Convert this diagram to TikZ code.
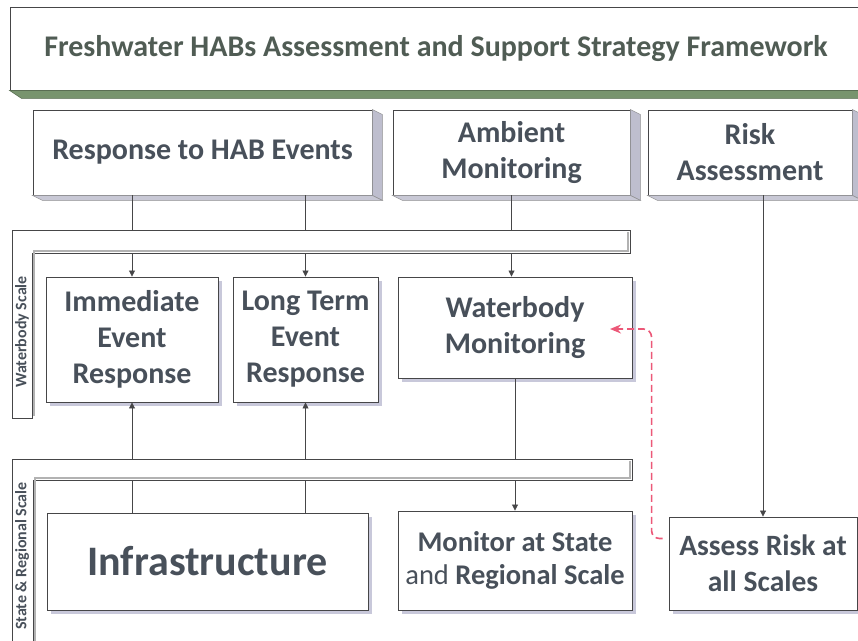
\documentclass[tikz,border=0pt]{standalone}
\usepackage{fontspec}
\setmainfont{Carlito}
\usepackage{tikz}
\usetikzlibrary{positioning, calc, arrows.meta, shadows}

\definecolor{txtgray}{RGB}{72,80,90}
\definecolor{titlegray}{RGB}{80,92,84}
\definecolor{edgegray}{RGB}{70,70,72}
\definecolor{sidegray}{RGB}{190,190,206}
\definecolor{sidegreen}{RGB}{120,148,110}
\definecolor{shadowblue}{RGB}{200,200,218}
\definecolor{riskred}{RGB}{236,88,120}

\tikzset{
  box/.style={draw=edgegray, line width=0.9pt, fill=white, text=txtgray, align=center,
    font=\bfseries\fontsize{30}{36}\selectfont, inner sep=0pt},
  card/.style={box, drop shadow={shadow xshift=4pt, shadow yshift=-4pt, fill=shadowblue, opacity=1}},
  flow/.style={draw=edgegray, line width=0.8pt, -{Triangle[length=6pt,width=6pt]}},
  bar/.style={draw=edgegray, line width=0.9pt, fill=white},
  scalelabel/.style={rotate=90, text=txtgray, font=\bfseries\fontsize{16}{18}\selectfont},
  riskflow/.style={draw=riskred, line width=1.6pt, dash pattern=on 7pt off 4pt,
    rounded corners=8pt, -{Stealth[length=11pt,width=9pt]}}
}

\begin{document}
\begin{tikzpicture}[x=1pt, y=-1pt]
    \useasboundingbox (0,0) rectangle (858,640);
    \fill[white] (0,0) rectangle (858,640);

    % headline and the three strategy areas
    \node[box, minimum width=852pt, minimum height=83pt, text=titlegray] (title) at (436,48.5)
        {Freshwater HABs Assessment and Support Strategy Framework};
    \node[box, minimum width=339pt, minimum height=85pt] (resp) at (202.5,152.5) {Response to HAB Events};
    \node[box, minimum width=237pt, minimum height=85pt] (ambient) at (511.5,152.5) {Ambient\\Monitoring};
    \node[box, minimum width=204pt, minimum height=85pt] (risk) at (750,152.5) {Risk\\Assessment};

    % waterbody scale
    \node[card, minimum width=172pt, minimum height=125pt] (imm) at (132,339.5) {Immediate\\Event\\Response};
    \node[card, minimum width=145pt, minimum height=125pt] (longterm) at (305.5,339.5) {Long Term\\Event\\Response};
    \node[card, minimum width=234pt, minimum height=101pt] (wbmon) at (515,327.5) {Waterbody\\Monitoring};

    % state and regional scale
    \node[card, minimum width=321pt, minimum height=97pt, font=\bfseries\fontsize{42}{48}\selectfont] (infra) at (207.5,561.5) {Infrastructure};
    \node[card, minimum width=234pt, minimum height=99pt, font=\bfseries\fontsize{28.5}{33}\selectfont] (monstate) at (515,560.5)
        {Monitor at State\\{\mdseries and} Regional Scale};
    \node[card, minimum width=188pt, minimum height=93pt, font=\bfseries\fontsize{29.5}{36}\selectfont] (assess) at (763,563.5)
        {Assess Risk at\\all Scales};

    % depth of the top boxes
    \fill[sidegreen, draw=sidegreen!70!black, line width=0.5pt] (title.south west) -- ++(12,8)
        -- ($(title.south east)+(12,8)$) -- (title.south east) -- cycle;
    \foreach \n in {resp, ambient, risk} {
        \fill[sidegray, draw=edgegray!60, line width=0.5pt] (\n.north east) -- ++(10,5)
            -- ($(\n.south east)+(10,5)$) -- (\n.south east) -- cycle;
        \fill[sidegray!85, draw=edgegray!60, line width=0.5pt] (\n.south west) -- ++(10,5)
            -- ($(\n.south east)+(10,5)$) -- (\n.south east) -- cycle;
    }

    \draw[flow] (resp.south -| imm) -- (imm.north);
    \draw[flow] (resp.south -| longterm) -- (longterm.north);
    \draw[flow] (ambient.south) -- (ambient.south |- wbmon.north);
    \draw[flow] (risk.south -| assess) -- (assess.north);
    \draw[flow] (wbmon.south) -- (monstate.north);
    \draw[flow] (infra.north -| imm) -- (imm.south);
    \draw[flow] (infra.north -| longterm) -- (longterm.south);

    % scale frames
    \path[bar] (12,230) -- (630,230) -- (630,253) -- (32,253) -- (32,418) -- (12,418) -- cycle;
    \draw[gray!60, line width=2pt] (628,232) -- (628,251) -- (34,251) -- (34,416);
    \node[scalelabel] (wblabel) at (22,332) {Waterbody Scale};

    \path[bar] (12,459) -- (632,459) -- (632,480) -- (33,480) -- (33,650) -- (12,650) -- cycle;
    \draw[gray!60, line width=2pt] (630,461) -- (630,478) -- (35,478) -- (35,650);
    \node[scalelabel] (srlabel) at (22,556) {State \& Regional Scale};

    \coordinate (wbin) at (610,329);
    \draw[riskflow] ([xshift=-6pt, yshift=25pt]assess.west) -- ++(-11,0) |- (wbin);
\end{tikzpicture}
\end{document}
